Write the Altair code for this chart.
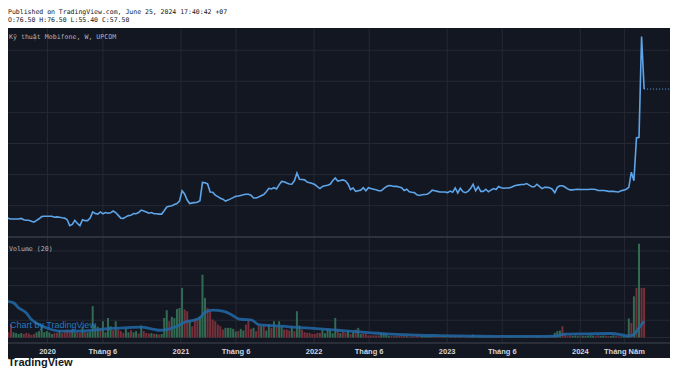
import altair as alt
import pandas as pd

# ---------------- data ----------------
start_week = "2019-09-09"          # first weekly bar
close = [
    16.6, 15.9, 15.7, 15.7, 15.7, 15.7, 15.9, 15.5, 15.3, 15.3,
    15.0, 14.7, 15.3, 15.8, 16.5, 16.6, 16.6, 16.6, 16.6, 16.3,
    16.4, 16.3, 16.1, 16.0, 15.5, 13.6, 14.0, 15.3, 14.3, 13.6,
    15.5, 15.2, 15.2, 16.0, 18.0, 17.5, 17.3, 18.0, 17.4, 17.8,
    17.6, 17.7, 18.3, 17.8, 16.9, 16.0, 15.9, 16.4, 16.8, 16.9,
    17.5, 17.4, 17.8, 18.6, 18.3, 18.0, 17.6, 17.8, 17.4, 17.4,
    17.3, 17.3, 18.4, 19.6, 19.8, 20.0, 20.4, 20.7, 21.5, 24.8,
    23.8, 21.8, 20.7, 20.9, 21.0, 21.1, 21.6, 27.5, 27.4, 27.0,
    24.4, 24.3, 23.4, 22.9, 22.4,
    22.1, 21.5, 21.8, 22.2, 22.6, 23.0, 23.1, 23.3, 23.5, 23.7,
    23.7, 23.4, 22.5, 22.5, 22.8, 23.2, 23.6, 24.5, 25.6, 25.4,
    25.8, 25.4, 26.7, 27.8, 27.7, 27.3, 27.0, 26.9, 28.0, 30.5,
    28.5, 28.4, 28.3, 27.6, 27.4, 27.1, 26.8, 26.1, 25.5, 26.2,
    26.4, 26.6, 26.9, 28.0, 28.9, 27.9, 28.1, 28.3, 28.0, 27.0,
    25.2, 25.7, 24.6, 24.8, 25.0, 25.8, 24.8, 25.8, 25.5, 25.3,
    25.1, 24.8, 24.8, 25.5, 26.1, 26.5, 26.4, 26.2, 26.2, 26.0,
    25.8, 24.9, 25.3, 24.5, 24.3, 24.2, 23.5, 23.3, 23.5, 23.6,
    23.7, 24.2, 25.0, 24.8, 24.6,
    24.4, 24.4, 24.4, 24.2, 24.7, 24.3, 25.7, 24.1, 25.6, 24.5,
    24.2, 24.6, 25.5, 26.9, 24.8, 26.1, 24.6, 24.6, 25.3, 24.5,
    25.0, 25.5, 25.2, 26.2, 25.8, 25.6, 25.7, 25.7, 25.9, 26.3,
    26.6, 26.7, 26.8, 26.8, 27.1, 26.6, 26.1, 26.1, 26.9, 26.2,
    25.5, 25.9, 25.9, 25.8, 25.3, 24.2, 25.9, 26.4, 26.4, 26.0,
    25.4, 25.1, 25.1, 25.2, 25.3, 25.2, 25.2, 25.2, 25.2, 25.3,
    25.3, 25.2, 24.9, 24.9, 24.9, 24.8, 24.6, 24.6, 24.6, 24.5,
    24.4, 24.8, 25.0, 25.3, 25.9,
    30.8, 28.0, 41.8, 42.0, 74.4, 57.5,
]

volume = [
    45, 30, 75, 30, 25, 20, 25, 20, 27, 23,
    15, 20, 30, 37, 62, 30, 37, 30, 20, 27,
    27, 42, 25, 37, 46, 42, 46, 30, 30, 27,
    62, 30, 30, 35, 181, 75, 62, 50, 94, 30,
    113, 65, 42, 94, 46, 37, 27, 50, 30, 42,
    30, 37, 23, 69, 37, 27, 23, 25, 21, 20,
    17, 20, 113, 158, 94, 119, 112, 165, 171, 287,
    162, 152, 94, 65, 104, 113, 123, 363, 229, 171,
    152, 104, 94, 75, 65,
    46, 56, 56, 56, 50, 35, 37, 50, 40, 75,
    100, 50, 56, 37, 69, 65, 69, 40, 75, 56,
    94, 62, 94, 62, 46, 46, 40, 62, 37, 152,
    69, 46, 31, 27, 27, 20, 20, 27, 27, 46,
    25, 50, 46, 25, 113, 46, 25, 37, 27, 42,
    20, 31, 46, 56, 20, 23, 23, 12, 12, 12,
    12, 12, 23, 23, 23, 10, 8, 10, 8, 10,
    9, 10, 8, 6, 8, 7, 8, 6, 9, 6,
    8, 6, 7, 6, 8,
    6, 5, 7, 5, 6, 8, 5, 6, 7, 5, 6, 5, 7,
    17,
    6, 5, 7, 6, 5, 8, 6, 5, 6, 7, 5, 6, 5, 8, 6, 5, 7, 6, 5, 6,
    8, 5, 6, 5, 7, 6, 5, 6, 5, 7, 8,
    27, 37, 40, 65, 17,
    10, 12, 9, 11, 8, 12, 10, 9, 11, 13, 10, 8, 12, 9, 11, 10, 8, 9, 12, 8,
    7, 6, 8, 7,
    110, 85, 238, 287, 542, 287, 287,
]

# bar colours (g = up, r = down); others follow the close
bar_colour_read = {
    2: "r", 8: "r", 9: "r", 13: "g", 14: "g", 16: "g", 19: "r", 20: "r", 21: "g",
    23: "r", 24: "r", 25: "r", 26: "g", 29: "r", 30: "g", 34: "g", 35: "g", 36: "g",
    37: "r", 38: "g", 40: "g", 41: "g", 42: "r", 43: "g", 44: "r", 45: "r", 46: "r",
    47: "g", 49: "r", 51: "g", 52: "r", 53: "g", 54: "r", 55: "r", 56: "r", 58: "r",
    60: "r", 62: "g", 63: "g", 64: "r", 65: "g", 66: "g", 67: "g", 68: "g", 69: "g",
    70: "r", 71: "r", 72: "g", 73: "r", 74: "r", 75: "r", 76: "g", 77: "g", 78: "g",
    79: "r", 80: "r", 81: "r", 82: "r", 83: "r", 84: "r", 85: "r", 86: "g", 87: "g",
    88: "g", 89: "g", 91: "r", 92: "g", 94: "r", 95: "r", 97: "g", 98: "r", 99: "r",
    100: "g", 101: "r", 103: "g", 104: "r", 105: "g", 106: "r", 107: "g", 108: "g",
    109: "r", 110: "r", 112: "g", 113: "r", 114: "g", 115: "g", 116: "r", 117: "r",
    118: "r", 119: "r", 122: "r", 123: "r", 124: "g", 126: "g", 127: "g", 129: "g",
    130: "r", 132: "r", 133: "r", 134: "g", 136: "g", 137: "r", 138: "g", 140: "r",
    141: "r", 142: "r", 143: "r", 144: "r", 145: "r", 146: "r", 147: "g", 148: "g",
    149: "g", 183: "g", 215: "g", 216: "g", 217: "g", 218: "r", 219: "r", 244: "g",
    245: "r", 246: "g", 247: "r", 248: "g", 249: "r", 250: "r",
}

# Volume MA(20) line, read at selected weeks
ma_week = [0, 3, 5, 8, 10, 13, 17, 21, 26, 31, 36, 41, 46, 53, 57, 60, 63, 67, 70,
           73, 76, 78, 81, 85, 88, 91, 93, 96, 99, 101, 106, 111, 117, 123, 130,
           136, 143, 149, 156, 162, 170, 183, 195, 208, 215, 219, 228, 237, 242,
           244, 246, 248, 250]
ma_value = [210, 200, 171, 142, 104, 75, 50, 37, 37, 38, 46, 52, 56, 60, 50, 42, 46,
            65, 88, 98, 113, 146, 158, 152, 135, 108, 104, 102, 75, 71, 67, 62, 56,
            50, 42, 35, 27, 21, 17, 13, 11, 8, 6, 6, 8, 19, 21, 23, 13, 8, 17, 56, 94]

tick_dates = ["2020-01-01", "2020-06-01", "2021-01-01", "2021-06-01", "2022-01-01",
              "2022-06-01", "2023-01-01", "2023-06-01", "2024-01-01", "2024-05-01"]
tick_labels = ["2020", "Tháng 6", "2021", "Tháng 6", "2022", "Tháng 6", "2023",
               "Tháng 6", "2024", "Tháng Năm"]
price_grid = [20, 30, 40, 50, 60, 70]
volume_grid = [0, 100, 200, 300, 400, 500]

header_1 = "Published on TradingView.com, June 25, 2024 17:40:42 +07"
header_2 = "O:76.50 H:76.50 L:55.40 C:57.50"
title = "Kỹ thuật Mobifone, W, UPCOM"

# ---------------- tables ----------------
dates = pd.date_range(start_week, periods=len(close), freq="7D")
df = pd.DataFrame({"date": dates.strftime("%Y-%m-%d"), "close": close, "volume": volume})
dirs = []
for i in range(len(close)):
    default = "g" if i == 0 or close[i] >= close[i - 1] else "r"
    dirs.append(bar_colour_read.get(i, default))
df["dir"] = dirs
df_last = df.tail(1)
ma_df = pd.DataFrame({"date": [dates[w].strftime("%Y-%m-%d") for w in ma_week], "ma": ma_value})
tick_df = pd.DataFrame({"date": tick_dates, "label": tick_labels})
pg_df = pd.DataFrame({"p": price_grid})
vg_df = pd.DataFrame({"v": volume_grid})
one = pd.DataFrame({"k": [0]})

# ---------------- scales (chart coords = page coords - 8) ----------------
W, H = 662, 360
PX_PER_WEEK = 2.592
t0 = pd.Timestamp(start_week, tz="UTC").value // 10**6
week_ms = 7 * 24 * 3600 * 1000
dom_lo = t0 + (8 - 0.8) / PX_PER_WEEK * week_ms
dom_hi = t0 + (8 + W - 0.8) / PX_PER_WEEK * week_ms
xs = alt.Scale(type="utc", domain=[dom_lo, dom_hi])
ps = alt.Scale(domain=[20, 70], range=[197.7, 42.2], zero=False, nice=False)
vs = alt.Scale(domain=[0, 500], range=[329.5, 243], zero=False, nice=False)

BG = "#131722"
GRID = "#252934"
LINE = "#5ea4e8"
GREEN = "#336a52"
RED = "#76303a"
TXT = "#b2b5be"

X = alt.X("date:T", scale=xs, axis=None)

bg = alt.Chart(one).mark_rect(color=BG).encode(
    x=alt.value(0), x2=alt.value(W), y=alt.value(20), y2=alt.value(350))

vgrid = alt.Chart(tick_df).mark_rule(color=GRID, strokeWidth=1).encode(
    x=X, y=alt.value(20), y2=alt.value(335))

pgrid = alt.Chart(pg_df).mark_rule(color=GRID, strokeWidth=1).encode(
    y=alt.Y("p:Q", scale=ps, axis=None), x=alt.value(0), x2=alt.value(W))

volgrid = alt.Chart(vg_df).mark_rule(color=GRID, strokeWidth=1).encode(
    y=alt.Y("v:Q", scale=vs, axis=None), x=alt.value(0), x2=alt.value(W))

sep = alt.Chart(one).mark_rule(color="#393d48", strokeWidth=1.5).encode(
    y=alt.value(229), x=alt.value(0), x2=alt.value(W))
bottom_line = alt.Chart(one).mark_rule(color="#434651", strokeWidth=1).encode(
    y=alt.value(335), x=alt.value(0), x2=alt.value(W))

bars = alt.Chart(df).mark_bar(size=2, clip=True).encode(
    x=X,
    y=alt.Y("volume:Q", scale=vs, axis=None),
    color=alt.Color("dir:N", scale=alt.Scale(domain=["g", "r"], range=[GREEN, RED]), legend=None),
)

ma_line = alt.Chart(ma_df).mark_line(color="#2268a6", strokeWidth=2.8, opacity=0.85,
                                      interpolate="monotone", clip=True).encode(
    x=X, y=alt.Y("ma:Q", scale=vs, axis=None))

price_line = alt.Chart(df).mark_line(color=LINE, strokeWidth=1.6, clip=True).encode(
    x=X, y=alt.Y("close:Q", scale=ps, axis=None))

last_rule = alt.Chart(df_last).mark_rule(color=LINE, strokeWidth=1, strokeDash=[1, 2]).encode(
    x=X, x2=alt.value(W), y=alt.Y("close:Q", scale=ps, axis=None))

tick_text = alt.Chart(tick_df).mark_text(
    color="#d1d4dc", fontSize=7.5, fontWeight="bold", font="Liberation Sans", baseline="middle"
).encode(x=X, y=alt.value(344), text="label:N")

MONO = "DejaVu Sans Mono"
h1 = alt.Chart(one).mark_text(text=header_1, font=MONO, fontSize=6.5, color="#131722",
                              align="left", baseline="middle").encode(
    x=alt.value(0), y=alt.value(3.5))
h2 = alt.Chart(one).mark_text(text=header_2, font=MONO, fontSize=6.5, color="#131722",
                              align="left", baseline="middle").encode(
    x=alt.value(0), y=alt.value(12))
t1 = alt.Chart(one).mark_text(text=title, font=MONO, fontSize=6.6, color=TXT,
                              align="left", baseline="middle").encode(
    x=alt.value(1), y=alt.value(29))
vol_title = alt.Chart(one).mark_text(text="Volume (20)", font=MONO, fontSize=6.6, color=TXT,
                                     align="left", baseline="middle").encode(
    x=alt.value(1), y=alt.value(241))
water = alt.Chart(one).mark_text(text="Chart by TradingView", font="Liberation Sans",
                                 fontSize=9, color="#2a8ad6", opacity=0.85,
                                 align="left", baseline="middle").encode(
    x=alt.value(2), y=alt.value(317))
footer = alt.Chart(one).mark_text(text="TradingView", font="Liberation Sans", fontSize=11,
                                  fontWeight="bold", color="#131722",
                                  align="left", baseline="middle").encode(
    x=alt.value(0), y=alt.value(355))

chart = alt.layer(
    bg, vgrid, pgrid, volgrid, sep, bottom_line, bars, ma_line, water, price_line,
    last_rule, tick_text, h1, h2, t1, vol_title, footer,
).resolve_scale(y="independent").properties(
    width=W, height=H, padding=0, background="white",
    autosize=alt.AutoSizeParams(type="none"),
).configure_view(stroke=None)

chart.save("out.html", embed_options={"renderer": "svg", "actions": False})
